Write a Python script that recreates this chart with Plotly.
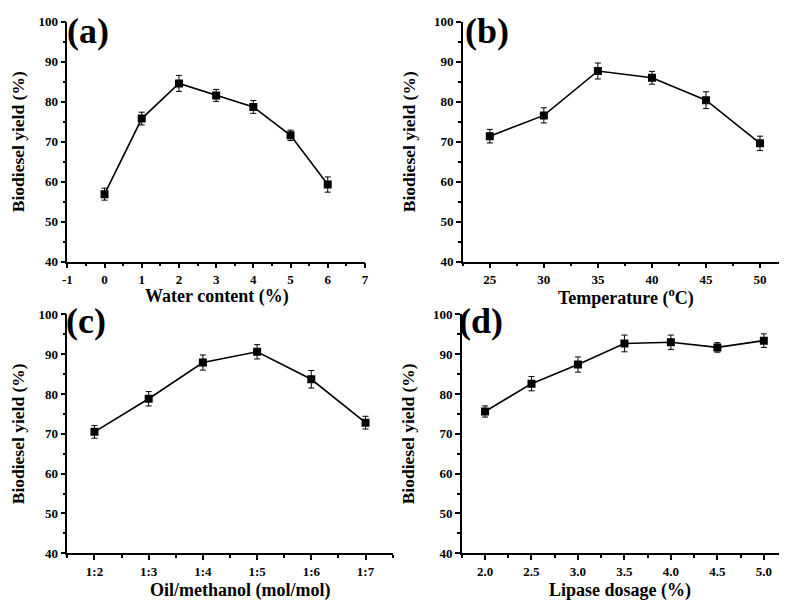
import plotly.graph_objects as go
from plotly.subplots import make_subplots

# (a) water content
water = [0, 1, 2, 3, 4, 5, 6]
water_yield = [56.9, 75.8, 84.6, 81.6, 78.7, 71.6, 59.3]
water_err = [1.5, 1.6, 2.0, 1.5, 1.6, 1.3, 1.9]
water_ticks = [-1, 0, 1, 2, 3, 4, 5, 6, 7]

# (b) temperature
temp = [25, 30, 35, 40, 45, 50]
temp_yield = [71.4, 76.6, 87.7, 86.0, 80.4, 69.6]
temp_err = [1.7, 1.9, 2.0, 1.6, 2.1, 1.8]

# (c) oil/methanol molar ratio
ratio_labels = ["1:2", "1:3", "1:4", "1:5", "1:6", "1:7"]
ratio_yield = [70.5, 78.8, 87.9, 90.6, 83.7, 72.8]
ratio_err = [1.6, 1.8, 1.9, 1.8, 2.2, 1.6]

# (d) lipase dosage
lipase = [2.0, 2.5, 3.0, 3.5, 4.0, 4.5, 5.0]
lipase_yield = [75.6, 82.6, 87.4, 92.7, 93.0, 91.7, 93.4]
lipase_err = [1.4, 1.8, 1.9, 2.1, 1.8, 1.2, 1.7]

W, H = 787, 603
FONT = "Liberation Serif"

fig = make_subplots(rows=2, cols=2)


def add(x, y, err, row, col):
    fig.add_trace(go.Scatter(
        x=x, y=y, mode="lines+markers",
        line=dict(color="black", width=1.6),
        marker=dict(symbol="square", size=8, color="black"),
        error_y=dict(type="data", array=err, color="black", thickness=1, width=3),
        showlegend=False,
    ), row=row, col=col)


add(water, water_yield, water_err, 1, 1)
add(temp, temp_yield, temp_err, 1, 2)
add(list(range(len(ratio_labels))), ratio_yield, ratio_err, 2, 1)
add(lipase, lipase_yield, lipase_err, 2, 2)

tickfont = dict(family=FONT, size=13, color="black", weight="bold")
titlefont = dict(family=FONT, size=18, color="black", weight="bold")
minor_style = dict(ticks="outside", ticklen=3, tickwidth=1.5, tickcolor="black")

common = dict(
    showline=True, linecolor="black", linewidth=1.5, mirror=False,
    showgrid=False, zeroline=False,
    ticks="outside", ticklen=5, tickwidth=1.5, tickcolor="black",
    tickfont=tickfont,
)


def px_x(a, b):
    return [a / W, b / W]


def px_y(top, bottom):
    return [1 - bottom / H, 1 - top / H]


yopts = dict(range=[40, 100], dtick=10, tick0=40,
             minor=dict(minor_style, dtick=5, tick0=45),
             title=dict(text="Biodiesel yield (%)", font=dict(titlefont, size=17.5), standoff=14))

fig.update_layout(
    xaxis=dict(common, domain=px_x(55, 356), range=[-1, 7],
               tickvals=water_ticks, ticktext=[str(t) for t in water_ticks],
               minor=dict(minor_style, dtick=0.5, tick0=-0.5)),
    yaxis=dict(common, domain=px_y(7, 253), **yopts),
    xaxis2=dict(common, domain=px_x(455, 783), range=[22.5, 52.5], dtick=5, tick0=25,
                minor=dict(minor_style, dtick=2.5, tick0=22.5)),
    yaxis2=dict(common, domain=px_y(7, 253), **yopts),
    xaxis3=dict(common, domain=px_x(55, 384), range=[-0.5, 5.5],
                tickvals=list(range(len(ratio_labels))), ticktext=ratio_labels,
                minor=dict(minor_style, tickvals=[i - 0.5 for i in range(len(ratio_labels) + 1)])),
    yaxis3=dict(common, domain=px_y(307, 552), **yopts),
    xaxis4=dict(common, domain=px_x(454, 783), range=[1.75, 5.25], dtick=0.5, tick0=2.0,
                tickformat=".1f",
                minor=dict(minor_style, dtick=0.25, tick0=1.75)),
    yaxis4=dict(common, domain=px_y(307, 552), **yopts),
)

# x-axis titles
xtitles = [("Water content (%)", 206, 289), ("Temperature (<sup>o</sup>C)", 620, 289),
           ("Oil/methanol (mol/mol)", 230, 590), ("Lipase dosage (%)", 614, 590)]
for text, x, y in xtitles:
    fig.add_annotation(text=text, xref="paper", yref="paper", x=x / W, y=1 - y / H,
                       xanchor="center", yanchor="middle", showarrow=False, font=titlefont)

# panel labels
labels = [("(a)", 53, 16), ("(b)", 455, 16), ("(c)", 52, 314), ("(d)", 449, 314)]
for text, x, y in labels:
    fig.add_annotation(text=text, xref="paper", yref="paper", x=x / W, y=1 - y / H,
                       xanchor="left", yanchor="middle", showarrow=False,
                       font=dict(family=FONT, size=36, color="black", weight="bold"))

fig.update_layout(
    width=W, height=H,
    margin=dict(l=0, r=0, t=0, b=0),
    paper_bgcolor="white", plot_bgcolor="white",
    font=dict(family=FONT, color="black"),
)

fig.write_html("out.html")
